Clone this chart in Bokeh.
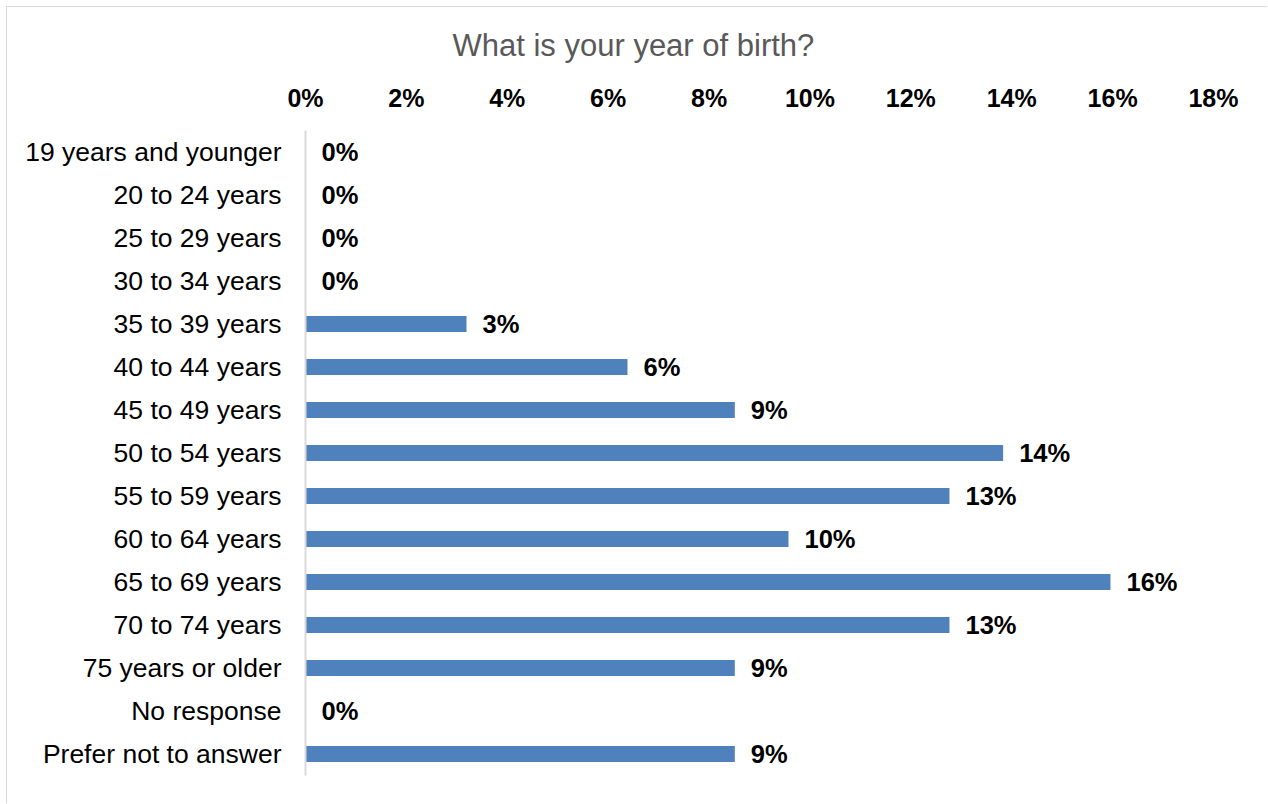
from bokeh.plotting import figure
from bokeh.models import ColumnDataSource, Title, FixedTicker, CustomJSTickFormatter, LabelSet
from bokeh.core.properties import value
from bokeh.embed import file_html
from bokeh.resources import INLINE

categories = ["19 years and younger", "20 to 24 years", "25 to 29 years", "30 to 34 years",
              "35 to 39 years", "40 to 44 years", "45 to 49 years", "50 to 54 years",
              "55 to 59 years", "60 to 64 years", "65 to 69 years", "70 to 74 years",
              "75 years or older", "No response", "Prefer not to answer"]
counts = [0, 0, 0, 0, 3, 6, 8, 13, 12, 9, 15, 12, 8, 0, 8]
total = 94
shares = [c / total for c in counts]
value_labels = [f"{round(s * 100):.0f}%" for s in shares]
tick_values = [0, 0.02, 0.04, 0.06, 0.08, 0.10, 0.12, 0.14, 0.16, 0.18]
title_text = "What is your year of birth?"

FONT = "Liberation Sans"

source = ColumnDataSource(dict(cat=categories, share=shares, lab=value_labels))

W, H = 1261, 797
p = figure(width=W, height=H, y_range=list(reversed(categories)), x_range=(0, 0.18),
           x_axis_location="above", output_backend="svg", toolbar_location=None,
           min_border_left=298, min_border_right=55, min_border_top=123, min_border_bottom=29)
p.styles = {"margin-left": "6px", "margin-top": "6px",
            "border-left": "1px solid #d9d9d9", "border-top": "1px solid #d9d9d9"}

p.hbar(y="cat", right="share", left=0, height=0.37, source=source,
       fill_color="#4F81BD", line_color=None)

labels = LabelSet(x="share", y="cat", text="lab", source=source, x_offset=16,
                  text_align="left", text_baseline="middle", text_font=value(FONT),
                  text_font_size=value("25.5px"), text_font_style=value("bold"),
                  text_color=value("#000000"))
p.add_layout(labels)

p.xaxis.ticker = FixedTicker(ticks=tick_values)
p.xaxis.formatter = CustomJSTickFormatter(code="return Math.round(tick*100) + '%';")
p.xaxis.axis_line_color = None
p.xaxis.major_tick_line_color = None
p.xaxis.minor_tick_line_color = None
p.xaxis.major_label_text_font = FONT
p.xaxis.major_label_text_font_size = "25px"
p.xaxis.major_label_text_font_style = "bold"
p.xaxis.major_label_text_color = "#000000"
p.xaxis.major_label_standoff = 13

p.yaxis.axis_line_color = "#d9d9d9"
p.yaxis.axis_line_width = 2
p.yaxis.major_tick_line_color = None
p.yaxis.minor_tick_line_color = None
p.yaxis.major_label_text_font = FONT
p.yaxis.major_label_text_font_size = "26.5px"
p.yaxis.major_label_text_color = "#000000"
p.yaxis.major_label_standoff = 18

p.xgrid.grid_line_color = None
p.ygrid.grid_line_color = None
p.outline_line_color = None
p.background_fill_color = "white"
p.border_fill_color = "white"

title = Title(text=title_text, align="left", offset=147, text_font=FONT,
              text_font_size="31px", text_font_style="normal", text_color="#595959",
              vertical_align="bottom", standoff=36)
p.add_layout(title, "above")

open("out.html", "w").write(file_html(p, INLINE))
